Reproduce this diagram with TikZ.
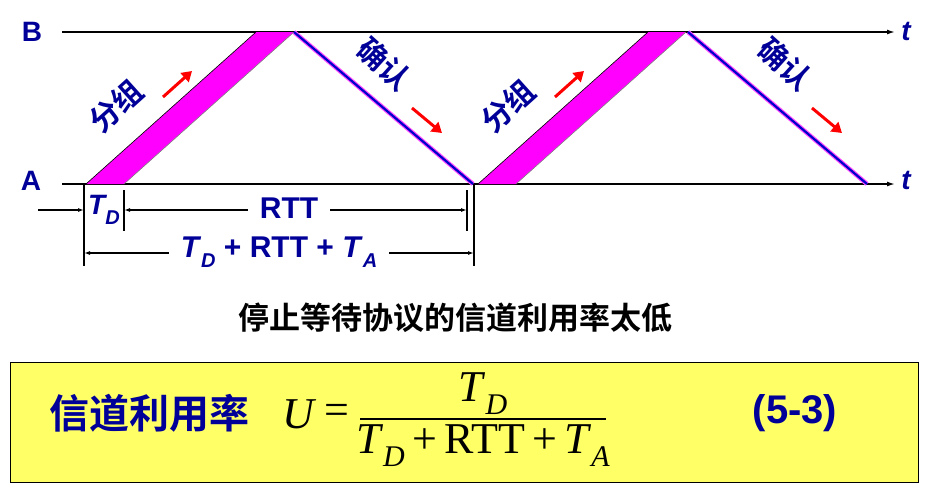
\documentclass[tikz,border=0pt]{standalone}
\usepackage{fontspec}
\setmainfont{Liberation Sans}
\newfontfamily\cjk{Noto Sans CJK SC}[BoldFont={Noto Sans CJK SC Bold}]
\newfontfamily\tms{Liberation Serif}
\usetikzlibrary{arrows.meta}
\definecolor{dblue}{HTML}{000099}
\definecolor{mag}{HTML}{FF00FF}
\definecolor{yel}{HTML}{FFFF66}
\begin{document}
\begin{tikzpicture}[x=1pt,y=-1pt,
  tl/.style={line width=1.5pt,-{Latex[length=8pt,width=5pt]}},
  dim/.style={line width=1.2pt,-{Latex[length=6pt,width=4pt]}},
  tick/.style={line width=1.2pt},
  lbl/.style={font=\bfseries\fontsize{28}{32}\selectfont,text=dblue},
  dl/.style={font=\bfseries\fontsize{30}{34}\selectfont,text=dblue,inner xsep=12pt},
  cn/.style={font=\cjk\bfseries\fontsize{30}{34}\selectfont,text=dblue},
  red/.style={draw=red,line width=3pt,-{Triangle[length=10pt,width=12pt]}},
  fr/.style={font=\tms\fontsize{44}{48}\selectfont,inner sep=0pt}]
\useasboundingbox (0,0) rectangle (929,483);
% time lines
\coordinate (B0) at (62,32); \coordinate (B1) at (895,32);
\coordinate (A0) at (62,184); \coordinate (A1) at (895,184);
\draw[tl] (B0) -- (B1);
\draw[tl] (A0) -- (A1);
\node[lbl] (lB) at (32,32) {B};
\node[lbl] (lA) at (31,181) {A};
\node[lbl,font=\bfseries\itshape\fontsize{28}{30}\selectfont] (tB) at (906,31) {t};
\node[lbl,font=\bfseries\itshape\fontsize{28}{30}\selectfont] (tA) at (906,180) {t};
% packets
\foreach \x in {86,478}{
  \fill[mag] (\x,184) -- (\x+38,184) -- (\x+208,32) -- (\x+170,32) -- cycle;
  \draw[line width=0.6pt] (\x,184) -- (\x+170,32);
  \draw[gray,line width=0.6pt] (\x+38,184) -- (\x+208,32);
}
% acks
\foreach \x in {294,688}{
  \draw[mag!70,line width=4.5pt] (\x,32) -- (\x+179,184);
  \draw[blue!80!black,line width=2.2pt] (\x,32) -- (\x+179,184);
}
% labels on slopes
\node[cn,rotate=42] (p1) at (116,106) {分组};
\node[cn,rotate=42] (p2) at (508,106) {分组};
\node[cn,rotate=-42] (k1) at (384,64) {确认};
\node[cn,rotate=-42] (k2) at (785,64) {确认};
\coordinate (r1a) at (163,97); \coordinate (r1b) at (192,71);
\coordinate (r2a) at (555,97); \coordinate (r2b) at (584,71);
\coordinate (r3a) at (412,108); \coordinate (r3b) at (442,133);
\coordinate (r4a) at (812,108); \coordinate (r4b) at (842,133);
\draw[red] (r1a) -- (r1b);
\draw[red] (r2a) -- (r2b);
\draw[red] (r3a) -- (r3b);
\draw[red] (r4a) -- (r4b);
% dimension ticks
\draw[tick] (84,184) -- (84,266);
\draw[tick] (124,190) -- (124,231);
\draw[tick] (467,190) -- (467,231);
\draw[tick] (474,184) -- (474,266);
% dims
\coordinate (d0) at (38,210); \coordinate (d1) at (84,210);
\draw[dim] (d0) -- (d1);
\node[dl,inner xsep=0pt,font=\bfseries\itshape\fontsize{28}{30}\selectfont] (td) at (104,210) {T\raisebox{-0.35em}{\fontsize{20}{22}\selectfont D}};
\node[dl] (rtt) at (289,208) {RTT};
\coordinate (e0) at (124,210); \coordinate (e1) at (467,210);
\draw[dim] (rtt.west |- e0) -- (e0);
\draw[dim] (rtt.east |- e1) -- (e1);
\node[dl] (tot) at (279,252) {\textit{T}\raisebox{-0.35em}{\fontsize{20}{22}\selectfont\textit{D}} + RTT + \textit{T}\raisebox{-0.35em}{\fontsize{20}{22}\selectfont\textit{A}}};
\coordinate (f0) at (84,253); \coordinate (f1) at (474,253);
\draw[dim] (tot.west |- f0) -- (f0);
\draw[dim] (tot.east |- f1) -- (f1);
% caption
\node[font=\cjk\bfseries\fontsize{31}{34}\selectfont] (cap) at (455,318) {停止等待协议的信道利用率太低};
% formula box
\node[draw=black,line width=0.8pt,fill=yel,minimum width=908pt,minimum height=120pt,anchor=north west,inner sep=0] (box) at (10,362) {};
\node[font=\cjk\bfseries\fontsize{40}{44}\selectfont,text=dblue,anchor=west] (u1) at (46,413) {信道利用率};
\node[fr] (uu) at (300,414) {\textit{U}};
\node[fr] (eqs) at (337,414) {=};
\coordinate (fl) at (360,419); \coordinate (frr) at (606,419);
\draw[line width=1.3pt] (fl) -- (frr);
\node[fr] (num) at (483,394) {\textit{T}\raisebox{-0.3em}{\fontsize{30}{32}\selectfont\textit{D}}};
\node[fr] (den) at (483,446) {\textit{T}\raisebox{-0.3em}{\fontsize{30}{32}\selectfont\textit{D}}\,+\,RTT\,+\,\textit{T}\raisebox{-0.3em}{\fontsize{30}{32}\selectfont\textit{A}}};
\node[font=\bfseries\fontsize{40}{44}\selectfont,text=dblue] (eq) at (795,413) {(5-3)};
\end{tikzpicture}
\end{document}
